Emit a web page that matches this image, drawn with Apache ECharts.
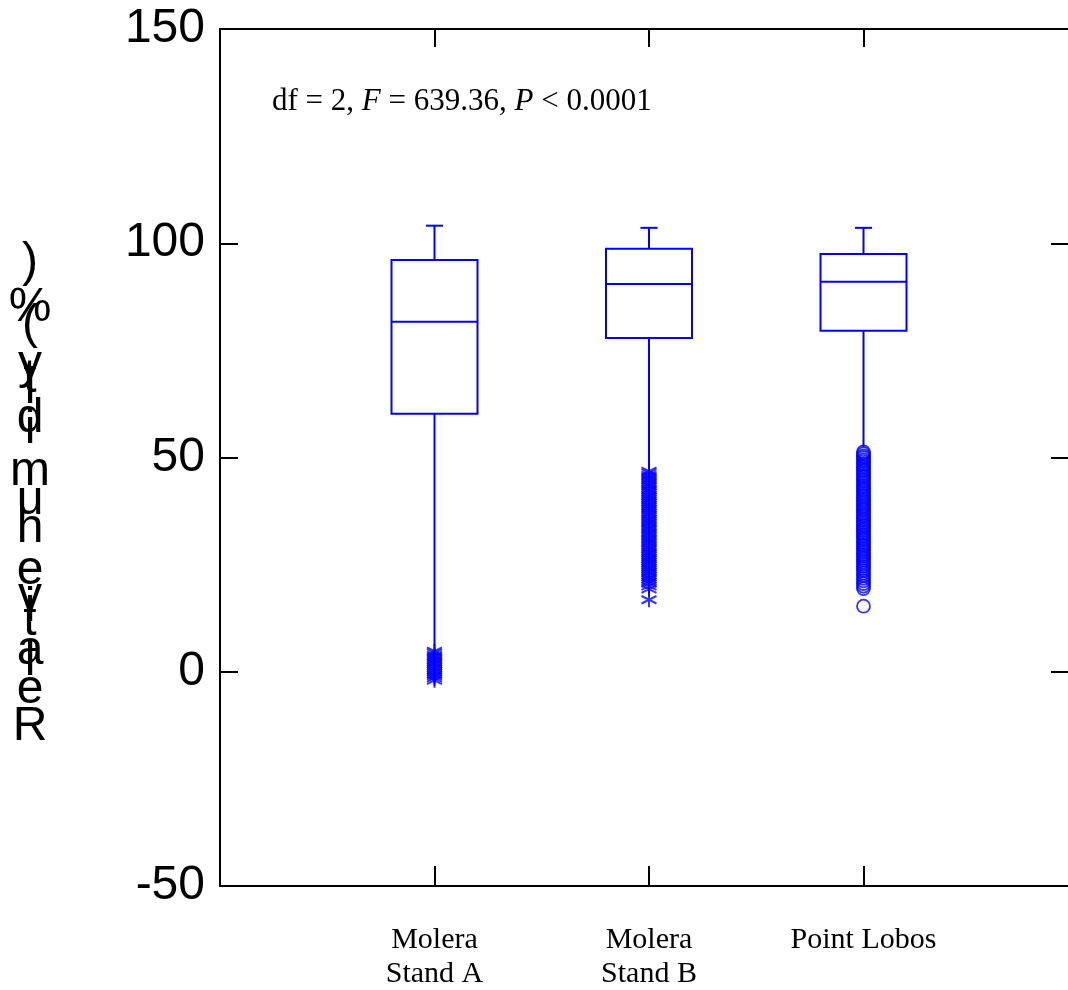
<style>html, body { margin: 0; padding: 0; background: #fff; }</style>
<script src="https://cdn.jsdelivr.net/npm/echarts@6/dist/echarts.min.js"></script>

<div id="main" style="width:1068px; height:990px;"></div>

<script>
    // categories (the two empty ones pad the axis so the frame is square)
    var categories = ['', 'Molera\nStand A', 'Molera\nStand B', 'Point Lobos', ''];
    var yTicks = [-50, 0, 50, 100, 150];

    // box statistics, one entry per site (x index 1..3)
    var boxX      = [1, 2, 3];
    var boxLow    = [6.0, 47.4, 52.4];
    var boxQ1     = [60.2, 77.9, 79.6];
    var boxMedian = [81.7, 90.5, 91.0];
    var boxQ3     = [96.1, 98.7, 97.5];
    var boxHigh   = [104.1, 103.6, 103.6];

    // outliers read from the dense clusters
    var outA = [4.8, 4.4, 3.9, 3.5, 3.0, 2.6, 2.1, 1.7, 1.2, 0.8, 0.3, -0.1, -0.6, -1.0, -1.5, -2.0];
    var outB = [46.8, 46.4, 45.9, 45.5, 45.0, 44.6, 44.1, 43.6, 43.2, 42.7, 42.3, 41.8, 41.3, 40.9, 40.4,
                40.0, 39.5, 39.0, 38.6, 38.1, 37.7, 37.2, 36.8, 36.3, 35.8, 35.4, 34.9, 34.5, 34.0, 33.5,
                33.1, 32.6, 32.2, 31.7, 31.2, 30.8, 30.3, 29.9, 29.4, 28.9, 28.5, 28.0, 27.6, 27.1, 26.6,
                26.2, 25.7, 25.3, 24.8, 24.3, 23.9, 23.4, 23.0, 22.5, 22.0, 21.6, 21.1, 20.6, 20.0, 19.3, 16.8];
    var outC = [51.3, 50.9, 50.4, 50.0, 49.5, 49.1, 48.6, 48.1, 47.7, 47.2, 46.8, 46.3, 45.8, 45.4, 44.9,
                44.5, 44.0, 43.5, 43.1, 42.6, 42.2, 41.7, 41.2, 40.8, 40.3, 39.9, 39.4, 38.9, 38.5, 38.0,
                37.6, 37.1, 36.6, 36.2, 35.7, 35.3, 34.8, 34.3, 33.9, 33.4, 33.0, 32.5, 32.0, 31.6, 31.1,
                30.7, 30.2, 29.7, 29.3, 28.8, 28.4, 27.9, 27.4, 27.0, 26.5, 26.1, 25.6, 25.1, 24.6, 24.1,
                23.6, 23.0, 22.4, 21.8, 21.2, 20.6, 20.0, 19.4, 15.3];

    var statDf = 2, statF = '639.36', statP = '0.0001';
    var yTitle = 'Relative humidity (%)';

    var blue = '#0000ff';
    var sansFont = '"Liberation Sans", Arial, sans-serif';
    var serifFont = '"Liberation Serif", "Times New Roman", serif';

    var boxData = boxX.map(function (x, i) {
        return [x, boxLow[i], boxQ1[i], boxMedian[i], boxQ3[i], boxHigh[i]];
    });
    function pts(x, arr) {
        return arr.map(function (v) { return [x, v]; });
    }

    function renderBox(params, api) {
        var x = api.value(0);
        var pLow = api.coord([x, api.value(1)]);
        var pQ1 = api.coord([x, api.value(2)]);
        var pMed = api.coord([x, api.value(3)]);
        var pQ3 = api.coord([x, api.value(4)]);
        var pHigh = api.coord([x, api.value(5)]);
        var cx = pMed[0], half = 43, cap = 8.5;
        var st = { stroke: blue, lineWidth: 2, fill: 'none' };
        function line(x1, y1, x2, y2) {
            return { type: 'line', shape: { x1: x1, y1: y1, x2: x2, y2: y2 }, style: st };
        }
        return {
            type: 'group',
            children: [
                { type: 'rect', shape: { x: cx - half, y: pQ3[1], width: half * 2, height: pQ1[1] - pQ3[1] }, style: st },
                line(cx - half, pMed[1], cx + half, pMed[1]),
                line(cx, pQ3[1], cx, pHigh[1]),
                line(cx - cap, pHigh[1], cx + cap, pHigh[1]),
                line(cx, pQ1[1], cx, pLow[1])
            ]
        };
    }

    // y title: characters stacked upright, each moved up by its own width
    var ctx = document.createElement('canvas').getContext('2d');
    ctx.font = '48px ' + sansFont;
    var titleEls = [];
    var base = 758;
    yTitle.split('').forEach(function (ch) {
        titleEls.push({
            type: 'text', x: 30, y: base + 10,
            style: { text: ch, font: '48px ' + sansFont, fill: '#000', align: 'center', verticalAlign: 'bottom' }
        });
        base -= ctx.measureText(ch).width * 1.06;
    });

    var axisLineStyle = { color: '#000', width: 2 };
    var star = 'path://M0,-10L0,10M-8.7,-5L8.7,5M-8.7,5L8.7,-5';

    var chartDom = document.getElementById('main');
    var myChart = echarts.init(chartDom);
    var option = {
        animation: false,
        backgroundColor: '#fff',
        grid: { left: 220, top: 29, width: 858, height: 857, containLabel: false, outerBoundsMode: 'none' },
        xAxis: [{
            type: 'category',
            data: categories,
            boundaryGap: false,
            position: 'bottom',
            axisLine: { onZero: false, lineStyle: axisLineStyle },
            axisTick: { inside: true, length: 20, lineStyle: axisLineStyle },
            axisLabel: { fontFamily: serifFont, fontSize: 30, color: '#000', lineHeight: 34, margin: 37, interval: 0 },
            splitLine: { show: false }
        }, {
            type: 'category',
            data: categories,
            boundaryGap: false,
            position: 'top',
            axisLine: { onZero: false, lineStyle: axisLineStyle },
            axisTick: { inside: true, length: 18, lineStyle: axisLineStyle },
            axisLabel: { show: false },
            splitLine: { show: false }
        }],
        yAxis: [{
            type: 'value',
            min: yTicks[0],
            max: yTicks[yTicks.length - 1],
            interval: 50,
            position: 'left',
            axisLine: { show: true, onZero: false, lineStyle: axisLineStyle },
            axisTick: { show: true, inside: true, length: 18, lineStyle: axisLineStyle },
            axisLabel: { fontFamily: sansFont, fontSize: 48, color: '#000', margin: 15 },
            splitLine: { show: false }
        }, {
            type: 'value',
            min: yTicks[0],
            max: yTicks[yTicks.length - 1],
            interval: 50,
            position: 'right',
            axisLine: { show: true, onZero: false, lineStyle: axisLineStyle },
            axisTick: { show: true, inside: true, length: 27, lineStyle: axisLineStyle },
            axisLabel: { show: false },
            splitLine: { show: false }
        }],
        series: [{
            type: 'custom',
            renderItem: renderBox,
            data: boxData,
            encode: { x: 0, y: [1, 2, 3, 4, 5] },
            z: 3
        }, {
            type: 'scatter',
            data: pts(1, outA).concat(pts(2, outB)),
            symbol: star,
            symbolSize: 15,
            itemStyle: { color: 'none', borderColor: blue, borderWidth: 2 },
            z: 2
        }, {
            type: 'scatter',
            data: pts(3, outC),
            symbol: 'circle',
            symbolSize: 13,
            itemStyle: { color: 'none', borderColor: blue, borderWidth: 1.8 },
            z: 2
        }],
        graphic: {
            elements: titleEls.concat([{
                type: 'text',
                x: 272,
                y: 102,
                style: {
                    text: '{a|df = ' + statDf + ', }{b|F}{a| = ' + statF + ', }{b|P}{a| < ' + statP + '}',
                    verticalAlign: 'middle',
                    rich: {
                        a: { fontFamily: serifFont, fontSize: 31, fill: '#000' },
                        b: { fontFamily: serifFont, fontSize: 31, fontStyle: 'italic', fill: '#000' }
                    }
                }
            }])
        }
    };

    option && myChart.setOption(option);
</script>
